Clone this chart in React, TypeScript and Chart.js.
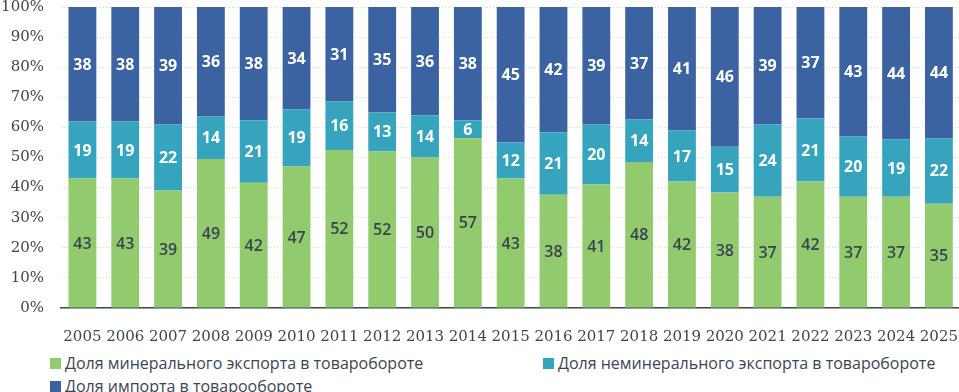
import React, { useEffect, useRef } from "react";
import { Chart, registerables } from "chart.js";

Chart.register(...registerables);

const years = ["2005","2006","2007","2008","2009","2010","2011","2012","2013","2014","2015","2016","2017","2018","2019","2020","2021","2022","2023","2024","2025"];
const mineralShare = [43,43,39,49,42,47,52,52,50,57,43,38,41,48,42,38,37,42,37,37,35];
const nonMineralShare = [19,19,22,14,21,19,16,13,14,6,12,21,20,14,17,15,24,21,20,19,22];
const importShare = [38,38,39,36,38,34,31,35,36,38,45,42,39,37,41,46,39,37,43,44,44];
const yTicks = [0,10,20,30,40,50,60,70,80,90,100];

const seriesNames = [
  "Доля минерального экспорта в товаробороте",
  "Доля неминерального экспорта в товаробороте",
  "Доля импорта в товарообороте",
];
const colors = ["#92cb6e", "#36a4bc", "#3c63a1"];
const labelColors = ["#3a4250", "#ffffff", "#ffffff"];
const textColor = "#3c4552";

const rawSeries = [mineralShare, nonMineralShare, importShare];
const totals = years.map((_, i) => rawSeries.reduce((s, arr) => s + arr[i], 0));

const labelPlugin = {
  id: "segLabels",
  afterDatasetsDraw(chart: any) {
    const ctx = chart.ctx;
    ctx.save();
    ctx.textAlign = "center";
    ctx.textBaseline = "middle";
    chart.data.datasets.forEach((ds: any, i: number) => {
      const meta = chart.getDatasetMeta(i);
      ctx.fillStyle = labelColors[i];
      ctx.font = (i === 0 ? "600 " : "bold ") + "16px 'Open Sans'";
      meta.data.forEach((bar: any, j: number) => {
        const p = bar.getProps(["x", "y", "base"], true);
        ctx.fillText(String(ds.rawValues[j]), p.x, (p.y + p.base) / 2 + 1);
      });
    });
    ctx.restore();
  },
};

export default function App() {
  const ref = useRef<HTMLCanvasElement>(null);
  useEffect(() => {
    document.body.style.margin = "0";
    const chart = new Chart(ref.current!, {
      type: "bar",
      data: {
        labels: years,
        datasets: rawSeries.map((arr, i) => ({
          label: seriesNames[i],
          data: arr.map((v, j) => (v / totals[j]) * 100),
          rawValues: arr,
          backgroundColor: colors[i],
          borderWidth: 0,
          categoryPercentage: 1,
          barPercentage: 0.65,
        })) as any,
      },
      options: {
        animation: false,
        responsive: false,
        devicePixelRatio: 1,
        layout: { padding: { left: 0, right: 0, top: 0, bottom: 0 } },
        plugins: { legend: { display: false }, tooltip: { enabled: false } },
        scales: {
          x: {
            stacked: true,
            grid: { display: false },
            border: { display: true, color: "#3f4854", width: 1.5 },
            ticks: { color: textColor, font: { family: "'DejaVu Serif'", size: 15 }, padding: 12, maxRotation: 0, autoSkip: false },
            afterFit: (s: any) => { s.height = 40; },
          },
          y: {
            stacked: true,
            min: 0,
            max: 100,
            afterBuildTicks: (s: any) => { s.ticks = yTicks.map((v) => ({ value: v })); },
            ticks: { color: textColor, font: { family: "'DejaVu Serif'", size: 15 }, padding: 17, callback: (v: any) => v + "%" },
            grid: { color: "#c4ebb2", lineWidth: 1, drawTicks: false },
            border: { display: false, dash: [1, 2] },
            afterFit: (s: any) => { s.width = 61; },
          },
        },
      },
      plugins: [labelPlugin],
    });
    return () => chart.destroy();
  }, []);

  const legendItem = (i: number, left: number, top: number) => (
    <div key={i} style={{ position: "absolute", left, top, display: "flex", alignItems: "center", fontFamily: "'Open Sans'", fontSize: 16, color: textColor, whiteSpace: "nowrap", lineHeight: "20px" }}>
      <span style={{ display: "inline-block", width: 11, height: 11, background: colors[i], marginRight: 4 }} />
      {seriesNames[i]}
    </div>
  );

  return (
    <div style={{ position: "relative", width: 959, height: 392, overflow: "hidden", background: "#fff" }}>
      <canvas ref={ref} width={970} height={367} style={{ position: "absolute", left: 0, top: -19 }} />
      {legendItem(0, 50, 353)}
      {legendItem(1, 543, 353)}
      {legendItem(2, 50, 376)}
    </div>
  );
}
